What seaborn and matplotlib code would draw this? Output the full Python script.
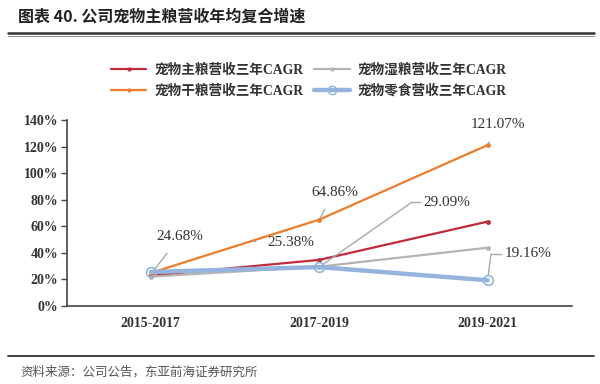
import matplotlib
matplotlib.use("Agg")
import matplotlib.pyplot as plt
import seaborn as sns
import pandas as pd
from matplotlib.lines import Line2D

sns.set_theme(style="white")
plt.rcParams['font.family'] = ['Liberation Serif', 'Noto Sans CJK SC']

periods = ["2015-2017", "2017-2019", "2019-2021"]
series_names = ["宠物主粮营收三年CAGR", "宠物湿粮营收三年CAGR", "宠物干粮营收三年CAGR", "宠物零食营收三年CAGR"]
main_food = [22.6, 34.5, 63.4]
wet_food = [21.9, 29.4, 43.7]
dry_food = [24.68, 64.86, 121.07]
snacks = [25.38, 29.09, 19.16]
yticks = [0, 20, 40, 60, 80, 100, 120, 140]

colors = ["#C22A3C", "#B4B4B4", "#F07B2A", "#94B4DE"]

df = pd.DataFrame({
    "period": periods * 4,
    "x": list(range(3)) * 4,
    "value": main_food + wet_food + dry_food + snacks,
    "series": sum([[n] * 3 for n in series_names], []),
})

fig = plt.figure(figsize=(6, 3.84), dpi=100)
ax = fig.add_axes([0.111, 0.204, 0.842, 0.4835])

for i, name in enumerate(series_names):
    sub = df[df.series == name]
    if i == 3:
        sns.lineplot(data=sub, x="x", y="value", ax=ax, color=colors[i], lw=3.2,
                     marker="o", markersize=7, markerfacecolor="none",
                     markeredgecolor=colors[i], markeredgewidth=1.2, zorder=4)
    else:
        sns.lineplot(data=sub, x="x", y="value", ax=ax, color=colors[i], lw=1.6,
                     marker="o", markersize=3.5, markeredgewidth=0, zorder=3)

ax.set_xlim(-0.5, 2.5)
ax.set_ylim(0, 140)
ax.set_xticks(range(3))
ax.set_xticklabels(periods, fontsize=10, fontweight="bold", color="#333333")
ax.set_yticks(yticks)
ax.set_yticklabels([f"{v}%" for v in yticks], fontsize=10, fontweight="bold", color="#333333")
ax.set_xlabel("")
ax.set_ylabel("")
for s in ["top", "right"]:
    ax.spines[s].set_visible(False)
for s in ["left", "bottom"]:
    ax.spines[s].set_color("#444444")
    ax.spines[s].set_linewidth(1.2)
ax.tick_params(axis="y", which="major", left=True, length=4, width=1, color="#444444", pad=2)
ax.tick_params(axis="x", length=0, pad=8)

ann_kw = dict(fontsize=11, color="#333333", ha="center", va="center",
              arrowprops=dict(arrowstyle="-", color="#A8A8A8", lw=1.0, shrinkA=6, shrinkB=1))
ax.annotate("24.68%", xy=(0.01, 25.2), xytext=(0.17, 51.8), **ann_kw)
ax.annotate("25.38%", xy=(0.6, 48.5), xytext=(0.83, 48.0), **ann_kw)
ax.annotate("64.86%", xy=(1.0, 64.86), xytext=(1.09, 85.5), **ann_kw)
ax.annotate("121.07%", xy=(2.0, 121.07), xytext=(2.06, 136.5), **ann_kw)
ax.annotate("", xy=(1.0, 29.09), xytext=(1.55, 78.0),
            arrowprops=dict(arrowstyle="-", color="#A8A8A8", lw=1.0, shrinkA=0, shrinkB=2))
ax.plot([1.55, 1.6], [78.0, 78.0], color="#A8A8A8", lw=1.0)
ax.text(1.62, 78.0, "29.09%", fontsize=11, color="#333333", ha="left", va="center")
ax.annotate("", xy=(2.0, 19.16), xytext=(2.02, 39.0),
            arrowprops=dict(arrowstyle="-", color="#A8A8A8", lw=1.0, shrinkA=0, shrinkB=4))
ax.plot([2.02, 2.08], [39.0, 39.0], color="#A8A8A8", lw=1.0)
ax.text(2.1, 39.0, "19.16%", fontsize=11, color="#333333", ha="left", va="center")

handles = []
for i, name in enumerate(series_names):
    if i == 3:
        handles.append(Line2D([], [], color=colors[i], lw=3.2, marker="o", markersize=6,
                              markerfacecolor="none", markeredgecolor=colors[i]))
    else:
        handles.append(Line2D([], [], color=colors[i], lw=1.6, marker="o", markersize=3, markeredgewidth=0))
order = [0, 2, 1, 3]
fig.legend([handles[i] for i in order], [series_names[i] for i in order],
           loc="center", bbox_to_anchor=(0.515, 0.79), ncol=2, frameon=False,
           handlelength=2.6, columnspacing=0.8, handletextpad=0.6, labelspacing=0.55,
           prop={"family": ["Liberation Serif", "Noto Sans CJK SC"], "size": 9.8, "weight": "bold"},
           labelcolor="#333333")

# title and rules
fig.text(0.03, 0.958, "图表 40. 公司宠物主粮营收年均复合增速", fontsize=11.5, fontweight="bold",
         color="#222222", ha="left", va="center", family=["Noto Sans CJK SC"])
fig.add_artist(Line2D([0.013, 0.99], [0.913, 0.913], color="#333333", lw=1.8))
fig.add_artist(Line2D([0.013, 0.99], [0.905, 0.905], color="#777777", lw=0.6))
fig.add_artist(Line2D([0.013, 0.99], [0.073, 0.073], color="#333333", lw=1.3))
fig.text(0.034, 0.031, "资料来源：公司公告，东亚前海证券研究所", fontsize=9, color="#555555",
         ha="left", va="center", family=["Noto Sans CJK SC"])

fig.savefig("out.png", dpi=100)
